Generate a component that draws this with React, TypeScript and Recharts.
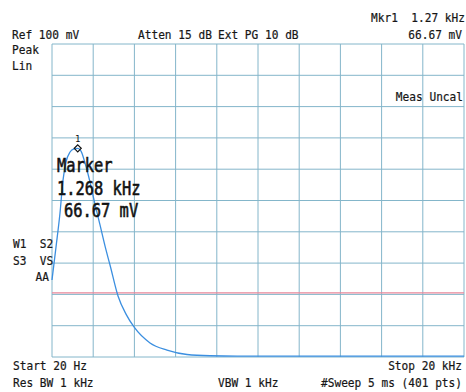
import React from 'react';
import { LineChart, Line, XAxis, YAxis, ReferenceLine, ReferenceDot } from 'recharts';

// trace (Hz, mV)
const freqHz = [20, 214, 408, 554, 699, 893, 1087, 1268, 1427, 1621, 1863, 2057, 2348, 2639, 2833, 3221, 3609, 3997, 4773, 5597, 6567, 7683, 9000, 12000, 16000, 20000];
const levelMv = [24.6, 35.1, 46.0, 56.5, 62.3, 65.5, 66.5, 66.67, 65.8, 62.0, 55.9, 50.2, 42.2, 34.2, 29.4, 19.5, 13.7, 9.6, 4.5, 2.2, 0.8, 0.4, 0.3, 0.3, 0.3, 0.3];

const gridHz = [20, 2018, 4016, 6014, 8012, 10010, 12008, 14006, 16004, 18002, 20000];
const gridMv = [0, 10, 20, 30, 40, 50, 60, 70, 80, 90, 100];
const displayLineMv = 20.5;
const marker = { f: 1268, v: 66.67 };

const data = freqHz.map((f, i) => ({ f, v: levelMv[i] }));

const gridColor = '#84b6ca';
const mono = '"DejaVu Sans Mono", monospace';

type Lbl = { t: string; x: number; y: number; end?: boolean };

const smallLabels: Lbl[] = [
  { t: 'Ref 100 mV', x: 12, y: 39 },
  { t: 'Atten 15 dB', x: 138, y: 39 },
  { t: 'Ext PG 10 dB', x: 218, y: 39 },
  { t: 'Mkr1  1.27 kHz', x: 465, y: 22, end: true },
  { t: '66.67 mV', x: 462, y: 39, end: true },
  { t: 'Peak', x: 12, y: 54 },
  { t: 'Lin', x: 12, y: 70 },
  { t: 'Meas Uncal', x: 463, y: 101, end: true },
  { t: 'W1  S2', x: 13, y: 248 },
  { t: 'S3  VS', x: 13, y: 265 },
  { t: 'AA', x: 49, y: 281, end: true },
  { t: 'Start 20 Hz', x: 13, y: 370 },
  { t: 'Res BW 1 kHz', x: 13, y: 387 },
  { t: 'VBW 1 kHz', x: 218, y: 387 },
  { t: 'Stop 20 kHz', x: 462, y: 370, end: true },
  { t: '#Sweep 5 ms (401 pts)', x: 462, y: 387, end: true },
];

const markerLabels: Lbl[] = [
  { t: 'Marker', x: 57, y: 172 },
  { t: '1.268 kHz', x: 57, y: 195 },
  { t: '66.67 mV', x: 64, y: 217 },
];

function Diamond(props: any) {
  const { cx, cy } = props;
  if (cx == null || cy == null) return null;
  return (
    <g>
      <path d={`M${cx},${cy - 3.5} L${cx + 3.5},${cy} L${cx},${cy + 3.5} L${cx - 3.5},${cy} Z`} fill="none" stroke="#111" strokeWidth={1.2} />
      <text x={cx} y={cy - 6} fontSize={9} fontFamily={mono} textAnchor="middle" fill="#111">1</text>
    </g>
  );
}

export default function App() {
  return (
    <div style={{ position: 'absolute', left: 0, top: 0, width: 466, height: 392, background: '#fff' }}>
      <LineChart width={466} height={392} data={data} margin={{ top: 44, right: 2, left: 52, bottom: 35 }}>
        <XAxis dataKey="f" type="number" domain={[20, 20000]} hide />
        <YAxis type="number" domain={[0, 100]} hide />
        {gridHz.map((g) => (
          <ReferenceLine key={'x' + g} x={g} stroke={gridColor} strokeWidth={1} />
        ))}
        {gridMv.map((g) => (
          <ReferenceLine key={'y' + g} y={g} stroke={gridColor} strokeWidth={1} />
        ))}
        <ReferenceLine y={displayLineMv} stroke="#e8879a" strokeWidth={1.2} />
        <Line type="monotone" dataKey="v" stroke="#3b8fe0" strokeWidth={1.3} dot={false} isAnimationActive={false} />
        <ReferenceDot x={marker.f} y={marker.v} r={3} shape={Diamond} />
      </LineChart>
      <svg width={466} height={392} style={{ position: 'absolute', left: 0, top: 0 }}>
        {smallLabels.map((l) => (
          <text
            key={l.t}
            transform={`translate(${l.x},${l.y}) scale(0.93,1)`}
            fontSize={12}
            fontFamily={mono}
            textAnchor={l.end ? 'end' : 'start'}
            fill="#161616"
            stroke="#161616"
            strokeWidth={0.2}
            style={{ whiteSpace: 'pre' }}
          >
            {l.t}
          </text>
        ))}
        {markerLabels.map((l) => (
          <text
            key={l.t}
            transform={`translate(${l.x},${l.y}) scale(0.79,1)`}
            fontSize={19.5}
            fontFamily={mono}
            fill="#111"
            stroke="#111"
            strokeWidth={0.6}
          >
            {l.t}
          </text>
        ))}
      </svg>
    </div>
  );
}
